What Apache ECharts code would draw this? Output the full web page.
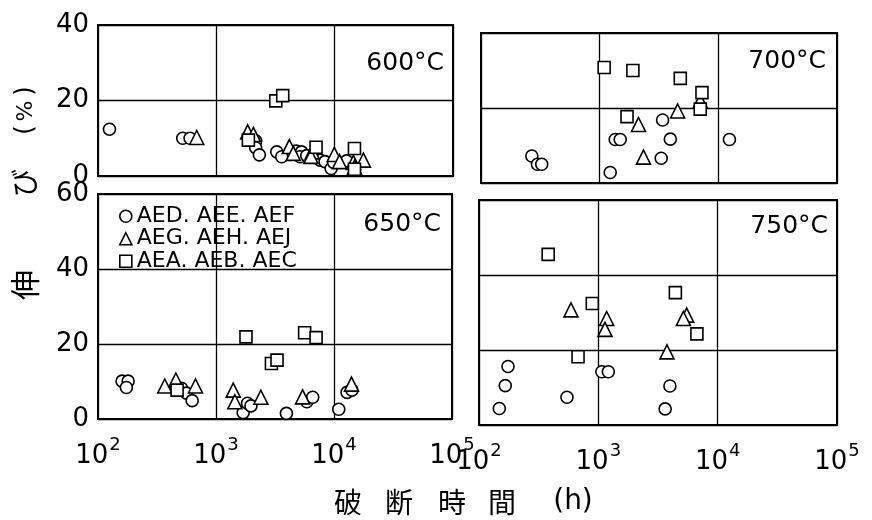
<!DOCTYPE html>
<html>
<head>
<meta charset="utf-8">
<script src="https://cdn.jsdelivr.net/npm/echarts@6/dist/echarts.min.js"></script>
<style>html,body{margin:0;padding:0;background:#fff}#c{width:872px;height:520px}</style>
</head>
<body>
<div id="c"></div>
<script>
// ---- data: [rupture time (h), elongation (%)] ----
const seriesNames = ['AED. AEE. AEF', 'AEG. AEH. AEJ', 'AEA. AEB. AEC'];
const panelTitles = ['600°C', '700°C', '650°C', '750°C'];
const xTicks = [100, 1000, 10000, 100000];

const c600 = [[125,12.4],[520,10.0],[600,10.0],[2150,9.3],[2150,7.5],[2310,5.6],[3240,6.4],[3570,5.1],[4720,6.6],[5250,6.4],[5100,5.1],[5810,5.4],[7530,4.2],[8290,3.8],[9330,2.0],[9800,3.6],[12600,4.0]];
const t600 = [[683,10.2],[1840,11.7],[2056,11.0],[4140,7.8],[4470,6.0],[6460,6.4],[6300,5.2],[9930,5.7],[11000,3.8],[14400,3.6],[14700,2.3],[17500,4.2]];
const s600 = [[1866,9.5],[3180,19.9],[3640,21.3],[6960,7.6],[14700,7.3],[14700,1.8]];

const c700 = [[268,7.2],[299,5.0],[325,5.0],[1227,2.8],[1352,11.6],[1490,11.6],[3390,16.8],[3940,11.7],[3300,6.6],[12400,11.6]];
const t700 = [[2125,15.6],[2340,6.9],[4540,19.2],[7040,21.9]];
const s700 = [[1091,30.8],[1905,30.0],[1700,17.7],[4780,27.9],[7280,24.1],[7040,19.7]];

const c650 = [[160,10.1],[180,10.1],[174,8.4],[510,8.2],[562,6.9],[628,4.9],[1700,1.7],[1850,4.2],[1977,3.5],[3950,1.5],[5890,4.6],[6600,5.8],[10970,2.6],[12900,7.1],[14200,7.7]];
const t650 = [[368,8.8],[457,10.4],[670,8.8],[1400,7.7],[1445,4.6],[2400,5.8],[5420,5.9],[14070,9.3]];
const s650 = [[468,7.7],[1795,21.9],[2950,14.8],[3290,15.7],[5640,23.0],[7050,21.7]];

const c750 = [[175,15.6],[166,10.5],[148,4.4],[546,7.4],[1070,14.2],[1213,14.2],[3980,10.4],[3630,4.3]];
const t750 = [[590,30.7],[1175,28.4],[1137,25.5],[5500,29.3],[5160,28.4],[3760,19.5]];
const s750 = [[380,45.5],[890,32.4],[676,18.2],[4420,35.3],[6700,24.3]];

const panels = [
  {c: c600, t: t600, s: s600, ymax: 40},
  {c: c700, t: t700, s: s700, ymax: 40},
  {c: c650, t: t650, s: s650, ymax: 60},
  {c: c750, t: t750, s: s750, ymax: 60}
];

// ---- layout ----
const grids = [
  {left: 98, top: 25, width: 355, height: 151},
  {left: 481, top: 33, width: 356, height: 150},
  {left: 98, top: 194, width: 354, height: 225},
  {left: 479, top: 200, width: 358, height: 225}
];
const titlePos = [[444, 63], [826, 61], [441, 224], [828, 226]];
const FONT = 'DejaVu Sans';
const CJK = 'Noto Sans CJK JP';

const chart = echarts.init(document.getElementById('c'), null, {renderer: 'canvas'});

const xAxis = grids.map((g, i) => ({
  type: 'log', logBase: 10, min: xTicks[0], max: xTicks[xTicks.length - 1], gridIndex: i,
  axisLine: {show: true, lineStyle: {color: '#000', width: 2}},
  axisTick: {show: false},
  splitLine: {show: true, lineStyle: {color: '#000', width: 1.3}},
  axisLabel: {
    show: i >= 2, margin: 17, color: '#000',
    formatter: v => '{b|10}{s|' + Math.round(Math.log10(v)) + '}',
    rich: {
      b: {fontSize: 26, fontFamily: FONT, color: '#000', verticalAlign: 'bottom'},
      s: {fontSize: 18, fontFamily: FONT, color: '#000', padding: [0, 0, 15, 1]}
    }
  }
}));
const yAxis = grids.map((g, i) => ({
  type: 'value', min: 0, max: panels[i].ymax, interval: 20, gridIndex: i,
  axisLine: {show: true, lineStyle: {color: '#000', width: 2}},
  axisTick: {show: false},
  splitLine: {show: true, lineStyle: {color: '#000', width: 1.3}},
  axisLabel: {show: i % 2 === 0, margin: 9, color: '#000', fontSize: 26, fontFamily: FONT}
}));

const sym = [['circle', 12], ['triangle', 14], ['rect', 12]];
const series = [];
panels.forEach((p, i) => {
  [p.c, p.t, p.s].forEach((d, k) => {
    series.push({
      type: 'scatter', name: seriesNames[k], xAxisIndex: i, yAxisIndex: i,
      data: d, symbol: sym[k][0], symbolSize: sym[k][1],
      itemStyle: {color: '#fff', borderColor: '#000', borderWidth: 1.6, opacity: 1},
      emphasis: {disabled: true}, silent: true
    });
  });
});

const graphic = [];
panelTitles.forEach((t, i) => {
  graphic.push({type: 'text', x: titlePos[i][0], y: titlePos[i][1],
    style: {text: t, fontSize: 25, fontFamily: FONT, fill: '#000', textAlign: 'right', textVerticalAlign: 'middle'}});
});
// y axis name (rotated)
[['伸', 25, 285, CJK, 30], ['び', 24, 183, CJK, 28], ['(', 26, 130, FONT, 24], ['%', 26, 111, FONT, 22], [')', 26, 91, FONT, 24]].forEach(a => {
  graphic.push({type: 'text', x: a[1], y: a[2], rotation: Math.PI / 2,
    style: {text: a[0], fontSize: a[4], fontFamily: a[3], fill: '#000', textAlign: 'center', textVerticalAlign: 'middle'}});
});
// x axis name
[['破', 348], ['断', 399], ['時', 452], ['間', 502], ['(h)', 573]].forEach(a => {
  graphic.push({type: 'text', x: a[1], y: 502,
    style: {text: a[0], fontSize: 28, fontFamily: a[0] === '(h)' ? FONT : CJK, fill: '#000', textAlign: 'center', textVerticalAlign: 'middle'}});
});

chart.setOption({
  animation: false,
  backgroundColor: '#fff',
  grid: grids.map(g => Object.assign({show: true, borderColor: '#000', borderWidth: 2, backgroundColor: 'transparent', containLabel: false}, g)),
  xAxis, yAxis, series, graphic,
  legend: {
    orient: 'vertical', left: 119, top: 205, padding: 0, itemGap: 0,
    itemWidth: 12, itemHeight: 12, selectedMode: false,
    data: [{name: seriesNames[0], icon: 'circle'}, {name: seriesNames[1], icon: 'triangle'}, {name: seriesNames[2], icon: 'rect'}],
    itemStyle: {color: '#fff', borderColor: '#000', borderWidth: 1.6},
    textStyle: {fontSize: 22, fontFamily: FONT, color: '#000', lineHeight: 22.5, padding: [0, 0, 0, 0]}
  }
});
</script>
</body>
</html>
